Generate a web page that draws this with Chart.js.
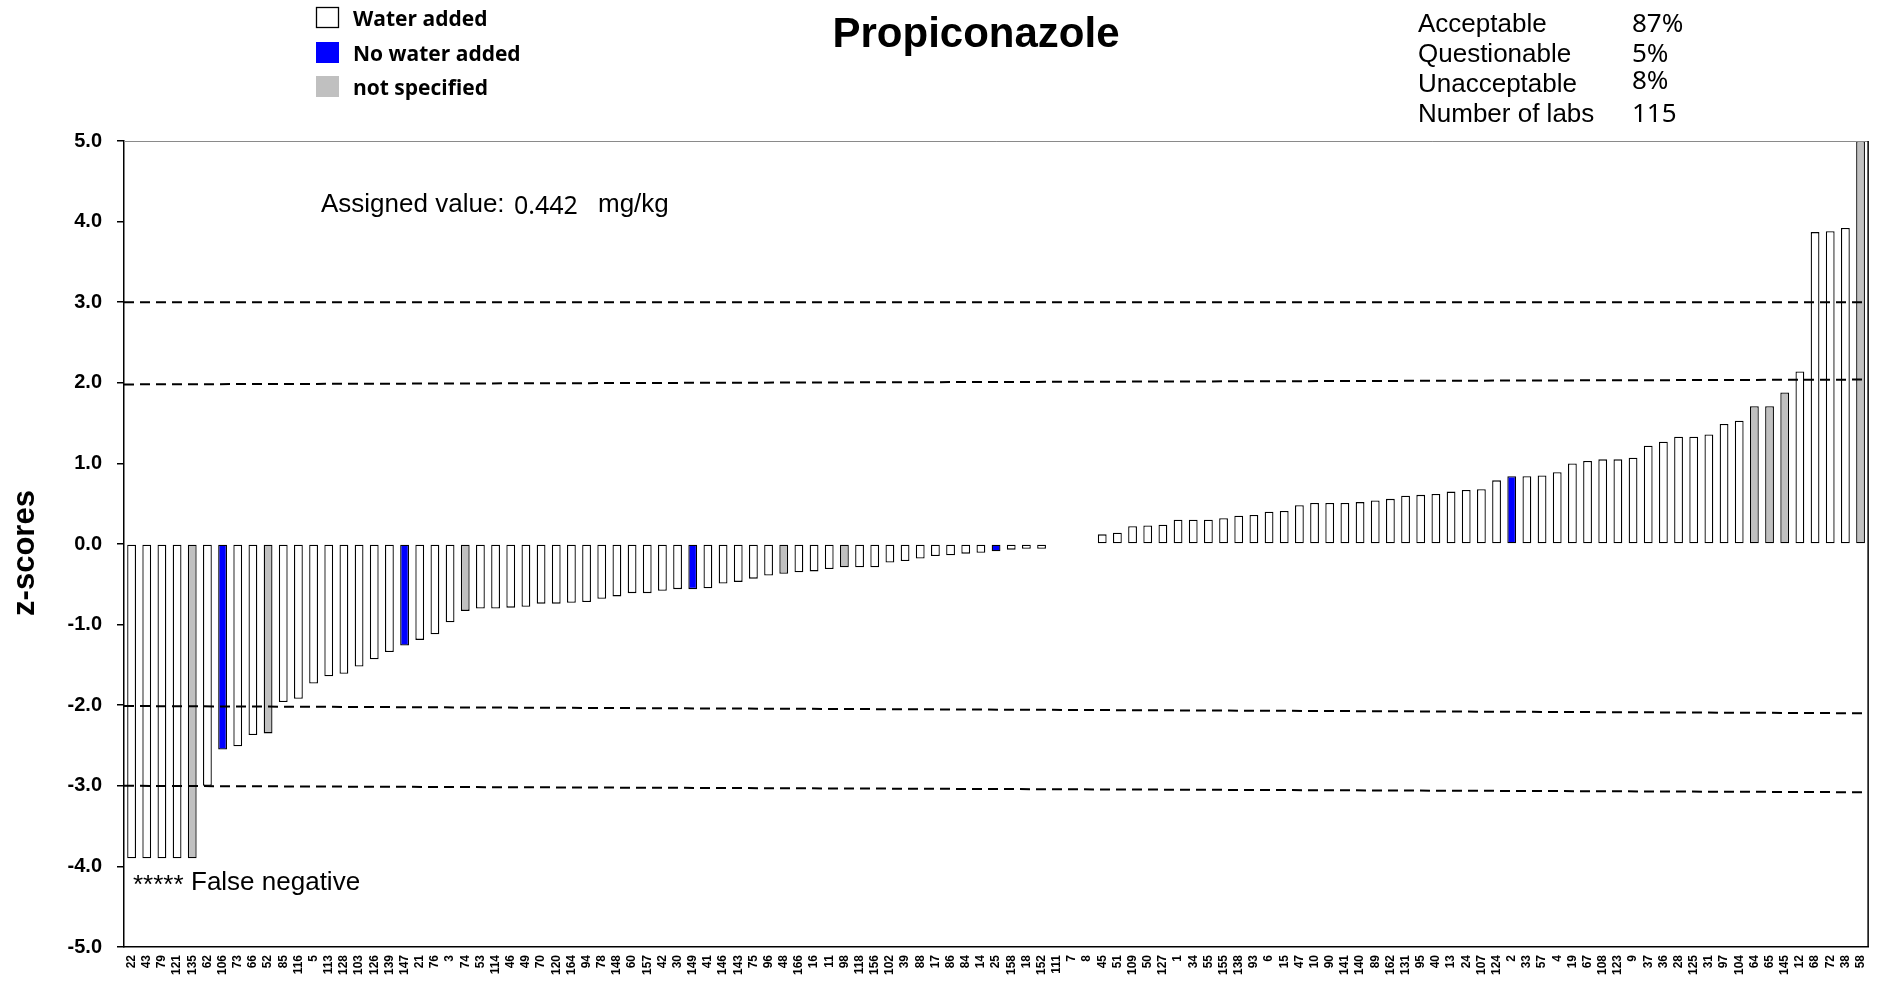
<!DOCTYPE html>
<html>
<head>
<meta charset="utf-8">
<title>Propiconazole z-scores</title>
<script src="https://cdn.jsdelivr.net/npm/chart.js@4/dist/chart.umd.min.js"></script>
<style>
  html, body { margin: 0; padding: 0; background: #ffffff; overflow: hidden; }
  canvas { display: block; }
</style>
</head>
<body>
<canvas id="zchart" width="1883" height="988"></canvas>
<script>
// Laboratory codes, in plotted order
const labs = ['22','43','79','121','135','62','106','73','66','52','85','116','5','113','128','103','126','139','147',
  '21','76','3','74','53','114','46','49','70','120','164','94','78','148','60','157','42','30','149',
  '41','146','143','75','96','48','166','16','11','98','118','156','102','39','88','17','86','84','14',
  '25','158','18','152','111','7','8','45','51','109','50','127','1','34','55','155','138','93','6','15',
  '47','10','90','141','140','89','162','131','95','40','13','24','107','124','2','33','57','4','19',
  '67','108','123','9','37','36','28','125','31','97','104','64','65','145','12','68','72','38','58'];

// z-score for each laboratory (null = no result)
const zScores = [-3.9,-3.9,-3.9,-3.9,-3.9,-3.0,-2.55,-2.51,-2.37,-2.35,-1.96,-1.92,-1.73,-1.64,-1.61,-1.52,-1.43,-1.34,-1.26,
  -1.19,-1.12,-0.97,-0.83,-0.80,-0.80,-0.79,-0.78,-0.74,-0.74,-0.73,-0.72,-0.68,-0.65,-0.61,-0.61,-0.58,-0.56,-0.56,
  -0.55,-0.49,-0.47,-0.43,-0.39,-0.37,-0.35,-0.34,-0.31,-0.29,-0.29,-0.29,-0.23,-0.21,-0.18,-0.15,-0.14,-0.12,-0.11,
  -0.09,-0.07,-0.06,-0.06,-0.01,null,null,0.12,0.14,0.22,0.23,0.24,0.30,0.30,0.30,0.32,0.35,0.36,0.40,0.41,
  0.48,0.51,0.51,0.51,0.52,0.54,0.56,0.60,0.61,0.62,0.65,0.67,0.68,0.79,0.84,0.84,0.85,0.89,1.00,
  1.03,1.05,1.05,1.07,1.22,1.27,1.33,1.33,1.36,1.49,1.53,1.71,1.71,1.88,2.14,3.87,3.88,3.92,5.0];

// Laboratories by sample preparation
const noWaterAdded = ['106','147','149','25','2'];
const notSpecified = ['135','52','74','48','98','64','65','145','58'];

// Legend entries
const legendLabels = ['Water added', 'No water added', 'not specified'];
const groupColors = ['#ffffff', '#0000ff', '#c0c0c0'];

// Summary table
const statLabels = ['Acceptable', 'Questionable', 'Unacceptable', 'Number of labs'];
const statValues = ['87%', '5%', '8%', '115'];

// Limit lines (|z| = 2 and |z| = 3) as drawn from left end to right end
const limitStart = [3.0, 1.98, -2.01, -3.0];
const limitEnd = [3.0, 2.04, -2.10, -3.08];

const assignedValue = '0.442';
const assignedUnit = 'mg/kg';

const barColors = labs.map(l => noWaterAdded.includes(l) ? groupColors[1]
  : notSpecified.includes(l) ? groupColors[2] : groupColors[0]);

const SANS = '"Liberation Sans", Arial, sans-serif';

const overlay = {
  id: 'overlay',
  afterDatasetsDraw(chart) {
    const { ctx, chartArea: a, scales: { y } } = chart;
    ctx.save();
    ctx.beginPath();
    ctx.rect(a.left, a.top, a.right - a.left, a.bottom - a.top);
    ctx.clip();
    ctx.strokeStyle = '#000';
    ctx.lineWidth = 2;
    ctx.setLineDash([10, 6]);
    limitStart.forEach((v, i) => {
      ctx.beginPath();
      ctx.moveTo(a.left, y.getPixelForValue(v));
      ctx.lineTo(a.right, y.getPixelForValue(limitEnd[i]));
      ctx.stroke();
    });
    ctx.restore();
  },
  afterDraw(chart) {
    const { ctx, chartArea: a } = chart;
    ctx.save();
    // frame top and right
    ctx.strokeStyle = '#8a8a8a';
    ctx.lineWidth = 1;
    ctx.beginPath();
    ctx.moveTo(a.left, a.top + 0.5);
    ctx.lineTo(a.right, a.top + 0.5);
    ctx.stroke();
    ctx.strokeStyle = '#000';
    ctx.lineWidth = 1.5;
    ctx.beginPath();
    ctx.moveTo(a.right, a.top);
    ctx.lineTo(a.right, a.bottom);
    ctx.stroke();

    ctx.fillStyle = '#000';
    ctx.textBaseline = 'alphabetic';

    // title
    ctx.font = 'bold 42px ' + SANS;
    ctx.textAlign = 'center';
    ctx.fillText('Propiconazole', 976, 47);

    // y axis title
    ctx.save();
    ctx.translate(34, 553);
    ctx.rotate(-Math.PI / 2);
    ctx.font = 'bold 31px ' + SANS;
    ctx.textAlign = 'center';
    ctx.fillText('z-scores', 0, 0);
    ctx.restore();

    // legend
    ctx.textAlign = 'left';
    ctx.font = 'bold 21px "Open Sans", sans-serif';
    const rows = [7, 42, 76];
    legendLabels.forEach((t, i) => {
      ctx.fillStyle = groupColors[i];
      ctx.fillRect(316, rows[i], 23, 21);
      if (i === 0) {
        ctx.strokeStyle = '#000';
        ctx.lineWidth = 1.3;
        ctx.strokeRect(316.5, rows[i] + 0.5, 22, 20);
      }
      ctx.fillStyle = '#000';
      ctx.fillText(t, 353, rows[i] + 19);
    });

    // summary table
    const base = [32, 62, 92, 122];
    const valBase = [32, 62, 89, 122];
    statLabels.forEach((t, i) => {
      ctx.font = '26px ' + SANS;
      ctx.fillText(t, 1418, base[i]);
      ctx.font = '26px "Noto Sans", sans-serif';
      ctx.fillText(statValues[i], 1632, valBase[i]);
    });

    // assigned value
    ctx.font = '26px ' + SANS;
    ctx.fillText('Assigned value:', 321, 212);
    ctx.font = '25px "Noto Sans", sans-serif';
    ctx.fillText(assignedValue, 514, 214);
    ctx.font = '26px ' + SANS;
    ctx.fillText(assignedUnit, 598, 212);

    // false negative note
    ctx.font = '26px ' + SANS;
    ctx.fillText('*****', 133, 893);
    ctx.fillText('False negative', 191, 890);
    ctx.restore();
  }
};

new Chart(document.getElementById('zchart'), {
  type: 'bar',
  data: {
    labels: labs,
    datasets: [{
      data: zScores,
      backgroundColor: barColors,
      borderColor: '#000',
      borderWidth: 1.3,
      borderSkipped: false,
      barPercentage: 0.58,
      categoryPercentage: 1.0
    }]
  },
  options: {
    responsive: false,
    devicePixelRatio: 1,
    animation: false,
    layout: { padding: { top: 141, right: 12, left: 0, bottom: 0 } },
    plugins: { legend: { display: false }, tooltip: { enabled: false } },
    scales: {
      x: {
        grid: { display: false, drawTicks: false },
        border: { display: true, color: '#000', width: 1.5 },
        ticks: {
          autoSkip: false,
          minRotation: 90,
          maxRotation: 90,
          padding: 8,
          color: '#000',
          font: { family: SANS, size: 12, weight: 'bold' }
        },
        afterFit(s) { s.height = 41; }
      },
      y: {
        min: -5,
        max: 5,
        grid: { drawOnChartArea: false, drawTicks: true, tickLength: 7, color: '#000', lineWidth: 1.5 },
        border: { display: true, color: '#000', width: 1.5 },
        ticks: {
          stepSize: 1,
          padding: 15,
          color: '#000',
          font: { family: SANS, size: 20, weight: 'bold' },
          callback: v => Number(v).toFixed(1)
        },
        afterFit(s) { s.width = 124; }
      }
    }
  },
  plugins: [overlay]
});
</script>
</body>
</html>
